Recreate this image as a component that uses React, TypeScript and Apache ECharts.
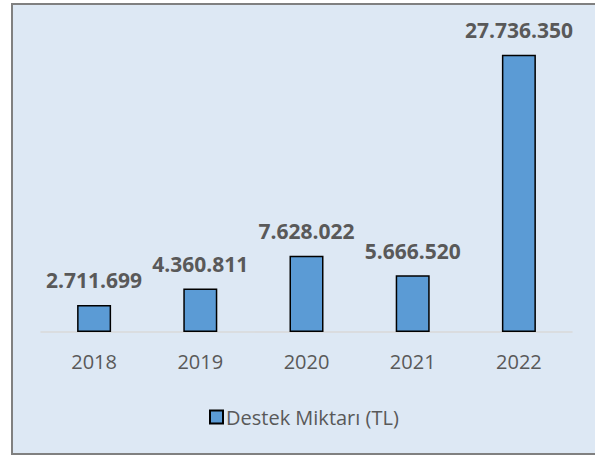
import React, { useEffect, useRef } from "react";
import * as echarts from "echarts";

const categories = ["2018", "2019", "2020", "2021", "2022"];
const values = [2711699, 4360811, 7628022, 5666520, 27736350];
const seriesName = "Destek Miktarı (TL)";

const fmt = (v: number) => String(v).replace(/\B(?=(\d{3})+(?!\d))/g, ".");

export default function App() {
  const ref = useRef<HTMLDivElement>(null);
  useEffect(() => {
    document.body.style.margin = "0";
    const chart = echarts.init(ref.current!, null, { renderer: "svg" });
    chart.setOption({
      animation: false,
      backgroundColor: "#ffffff",
      graphic: [
        {
          type: "rect",
          z: -10,
          silent: true,
          shape: { x: 12, y: 4, width: 640, height: 450 },
          style: { fill: "#DDE8F4", stroke: "#808080", lineWidth: 2 },
        },
      ],
      grid: { left: 41, right: 23, top: 32, bottom: 125 },
      xAxis: {
        type: "category",
        data: categories,
        axisLine: { lineStyle: { color: "#D9D9D9", width: 1.5 } },
        axisTick: { show: false },
        axisLabel: {
          color: "#595959",
          fontFamily: "Open Sans",
          fontSize: 20,
          margin: 19,
        },
      },
      yAxis: {
        type: "value",
        min: 0,
        max: 30000000,
        show: false,
        splitLine: { show: false },
      },
      legend: {
        data: [seriesName],
        left: 204,
        top: 402,
        icon: "rect",
        itemWidth: 13,
        itemHeight: 13,
        itemGap: 6,
        textStyle: {
          color: "#595959",
          fontFamily: "Open Sans",
          fontSize: 20,
          padding: [0, 0, 0, -2],
        },
      },
      series: [
        {
          type: "bar",
          name: seriesName,
          data: values,
          barWidth: 34,
          itemStyle: {
            color: "#5B9BD5",
            borderColor: "#000000",
            borderWidth: 1.5,
          },
          label: {
            show: true,
            position: "top",
            distance: 14,
            formatter: (p: any) => fmt(p.value),
            color: "#595959",
            fontFamily: "Open Sans",
            fontWeight: "bold",
            fontSize: 21,
          },
        },
      ],
    });
    return () => chart.dispose();
  }, []);
  return <div ref={ref} style={{ width: 595, height: 457 }} />;
}
